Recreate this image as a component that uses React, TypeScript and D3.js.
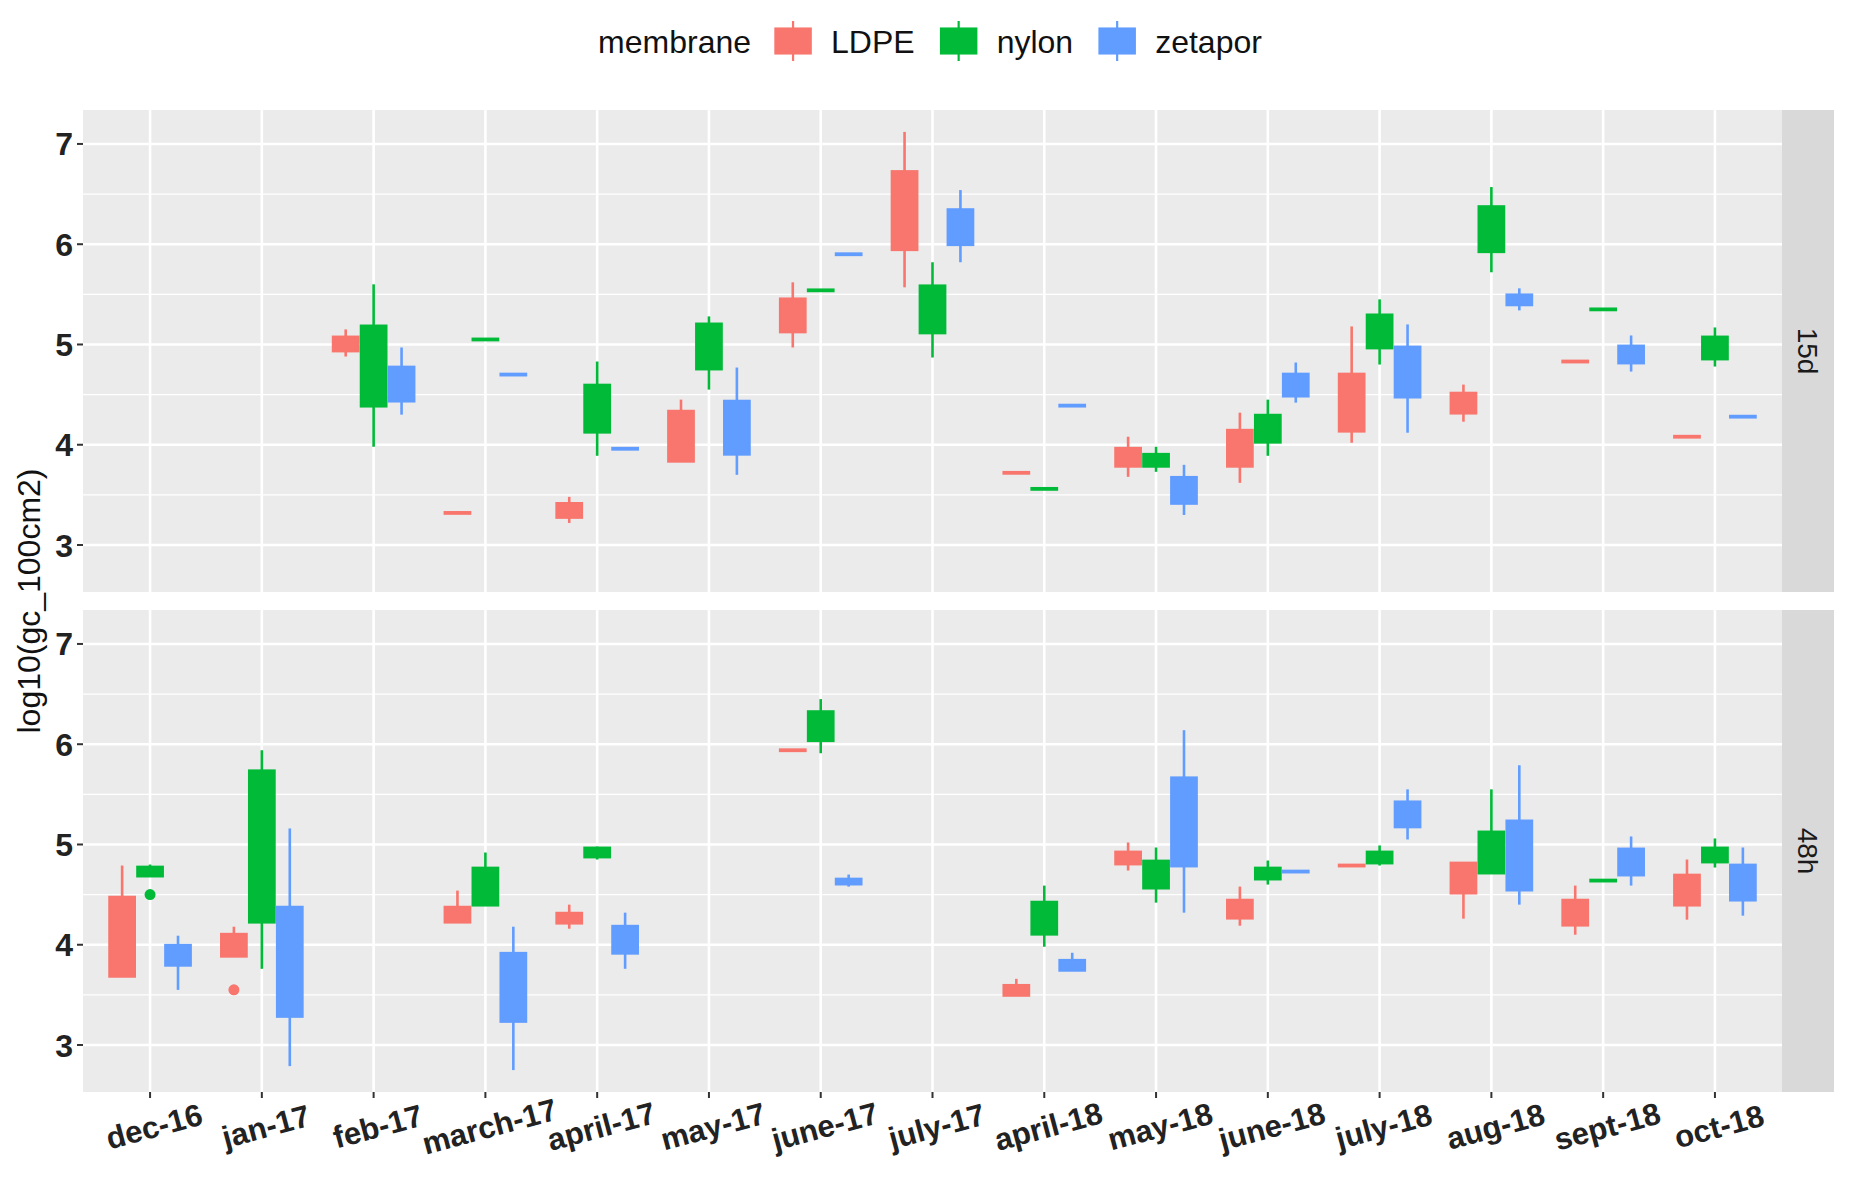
import * as d3 from "d3";
import { useEffect, useRef } from "react";

// boxplot stats per category: [lower whisker, q1, q3, upper whisker], null = no samples
type Stat = [number, number, number, number] | null;

const categories = [
  "dec-16", "jan-17", "feb-17", "march-17", "april-17", "may-17", "june-17", "july-17",
  "april-18", "may-18", "june-18", "july-18", "aug-18", "sept-18", "oct-18",
];
const membranes = ["LDPE", "nylon", "zetapor"];
const membraneColors = ["#F8766D", "#00BA38", "#619CFF"];
const facets = ["15d", "48h"];
const yTicks = [3, 4, 5, 6, 7];
const yMinor = [3.5, 4.5, 5.5, 6.5];

// 15d panel
const ldpe15d: Stat[] = [
  null, null,
  [4.88, 4.93, 5.08, 5.15],
  [3.31, 3.31, 3.33, 3.33],
  [3.22, 3.27, 3.42, 3.48],
  [3.83, 3.83, 4.34, 4.45],
  [4.97, 5.12, 5.46, 5.62],
  [5.57, 5.94, 6.73, 7.12],
  [3.71, 3.71, 3.73, 3.73],
  [3.68, 3.78, 3.97, 4.08],
  [3.62, 3.78, 4.15, 4.32],
  [4.02, 4.13, 4.71, 5.18],
  [4.23, 4.31, 4.52, 4.6],
  [4.82, 4.82, 4.84, 4.84],
  [4.07, 4.07, 4.09, 4.09],
];
const nylon15d: Stat[] = [
  null, null,
  [3.98, 4.38, 5.19, 5.6],
  [5.04, 5.04, 5.06, 5.06],
  [3.89, 4.12, 4.6, 4.83],
  [4.55, 4.75, 5.21, 5.28],
  [5.53, 5.53, 5.55, 5.55],
  [4.87, 5.11, 5.59, 5.82],
  [3.55, 3.55, 3.57, 3.57],
  [3.73, 3.78, 3.91, 3.98],
  [3.89, 4.02, 4.3, 4.45],
  [4.8, 4.96, 5.3, 5.45],
  [5.72, 5.92, 6.38, 6.57],
  [5.34, 5.34, 5.36, 5.36],
  [4.78, 4.85, 5.08, 5.17],
];
const zetapor15d: Stat[] = [
  null, null,
  [4.3, 4.43, 4.78, 4.97],
  [4.69, 4.69, 4.71, 4.71],
  [3.95, 3.95, 3.97, 3.97],
  [3.7, 3.9, 4.44, 4.77],
  [5.89, 5.89, 5.91, 5.91],
  [5.82, 5.99, 6.35, 6.54],
  [4.38, 4.38, 4.4, 4.4],
  [3.3, 3.41, 3.68, 3.8],
  [4.42, 4.48, 4.71, 4.82],
  [4.12, 4.47, 4.98, 5.2],
  [5.34, 5.39, 5.5, 5.56],
  [4.73, 4.81, 4.99, 5.09],
  [4.27, 4.27, 4.29, 4.29],
];

// 48h panel
const ldpe48h: Stat[] = [
  [3.68, 3.68, 4.48, 4.79],
  [3.88, 3.88, 4.11, 4.18],
  null,
  [4.22, 4.22, 4.38, 4.54],
  [4.16, 4.21, 4.32, 4.4],
  null,
  [5.93, 5.93, 5.95, 5.95],
  null,
  [3.49, 3.49, 3.6, 3.66],
  [4.74, 4.8, 4.93, 5.02],
  [4.19, 4.26, 4.45, 4.58],
  [4.78, 4.78, 4.8, 4.8],
  [4.26, 4.51, 4.82, 4.82],
  [4.1, 4.19, 4.45, 4.59],
  [4.25, 4.39, 4.7, 4.85],
];
const nylon48h: Stat[] = [
  [4.68, 4.68, 4.78, 4.8],
  [3.76, 4.22, 5.74, 5.94],
  null,
  [4.39, 4.39, 4.77, 4.92],
  [4.85, 4.87, 4.97, 4.98],
  null,
  [5.91, 6.03, 6.33, 6.45],
  null,
  [3.98, 4.1, 4.43, 4.59],
  [4.42, 4.56, 4.84, 4.97],
  [4.6, 4.65, 4.77, 4.84],
  [4.79, 4.81, 4.93, 4.99],
  [4.71, 4.71, 5.13, 5.55],
  [4.63, 4.63, 4.65, 4.65],
  [4.77, 4.82, 4.97, 5.06],
];
const zetapor48h: Stat[] = [
  [3.55, 3.79, 4.0, 4.09],
  [2.79, 3.28, 4.38, 5.16],
  null,
  [2.75, 3.23, 3.92, 4.18],
  [3.76, 3.91, 4.19, 4.32],
  null,
  [4.58, 4.6, 4.66, 4.7],
  null,
  [3.74, 3.74, 3.85, 3.92],
  [4.32, 4.78, 5.67, 6.14],
  [4.72, 4.72, 4.74, 4.74],
  [5.05, 5.17, 5.43, 5.55],
  [4.4, 4.54, 5.24, 5.79],
  [4.59, 4.69, 4.96, 5.08],
  [4.29, 4.44, 4.8, 4.97],
];

const outlierFacet = ["48h", "48h"];
const outlierCategory = ["dec-16", "jan-17"];
const outlierMembrane = ["nylon", "LDPE"];
const outlierValue = [4.5, 3.55];

const panelStats: Stat[][][] = [
  [ldpe15d, nylon15d, zetapor15d],
  [ldpe48h, nylon48h, zetapor48h],
];

const FONT = "'Liberation Sans', Arial, sans-serif";

const App = () => {
  const ref = useRef<SVGSVGElement>(null);

  const width = 1850;
  const height = 1183;
  const left = 83;
  const right = 1782;
  const stripW = 52;
  const panelTops = [110, 610];
  const panelH = 482;

  useEffect(() => {
    if (!ref.current) return;
    const svg = d3.select(ref.current);
    svg.selectAll("*").remove();

    svg.append("rect").attr("width", width).attr("height", height).attr("fill", "white");

    // shared y domain with ggplot-like 5% expansion
    const allVals: number[] = [];
    panelStats.forEach((p) => p.forEach((s) => s.forEach((v) => v && allVals.push(...v))));
    allVals.push(...outlierValue);
    const [lo, hi] = d3.extent(allVals) as [number, number];
    const pad = (hi - lo) * 0.05;

    const x = d3.scalePoint<string>().domain(categories).range([left, right]).padding(0.6);
    const step = x.step();
    const dodge = d3
      .scaleBand<string>()
      .domain(membranes)
      .range([-0.375 * step, 0.375 * step]);
    const bw = dodge.bandwidth();
    const cx = (cat: string, m: string) => (x(cat) as number) + (dodge(m) as number) + bw / 2;

    facets.forEach((facet, fi) => {
      const top = panelTops[fi];
      const y = d3.scaleLinear().domain([lo - pad, hi + pad]).range([top + panelH, top]);
      const g = svg.append("g");

      // panel background
      g.append("rect")
        .attr("x", left).attr("y", top)
        .attr("width", right - left).attr("height", panelH)
        .attr("fill", "#EBEBEB");

      // grid
      g.selectAll(".minor").data(yMinor).enter().append("line")
        .attr("x1", left).attr("x2", right)
        .attr("y1", (d) => y(d)).attr("y2", (d) => y(d))
        .attr("stroke", "white").attr("stroke-width", 1.3);
      g.selectAll(".major").data(yTicks).enter().append("line")
        .attr("x1", left).attr("x2", right)
        .attr("y1", (d) => y(d)).attr("y2", (d) => y(d))
        .attr("stroke", "white").attr("stroke-width", 2.6);
      g.selectAll(".vgrid").data(categories).enter().append("line")
        .attr("x1", (d) => x(d) as number).attr("x2", (d) => x(d) as number)
        .attr("y1", top).attr("y2", top + panelH)
        .attr("stroke", "white").attr("stroke-width", 2.6);

      // y axis ticks + labels
      g.selectAll(".ytick").data(yTicks).enter().append("line")
        .attr("x1", left - 6).attr("x2", left)
        .attr("y1", (d) => y(d)).attr("y2", (d) => y(d))
        .attr("stroke", "#333").attr("stroke-width", 2);
      g.selectAll(".ylab").data(yTicks).enter().append("text")
        .attr("x", left - 10).attr("y", (d) => y(d))
        .attr("dy", "0.36em")
        .attr("text-anchor", "end")
        .style("font-family", FONT).style("font-size", "32px").style("font-weight", "bold")
        .attr("fill", "#222")
        .text((d) => d);

      // strip
      g.append("rect")
        .attr("x", right).attr("y", top)
        .attr("width", stripW).attr("height", panelH)
        .attr("fill", "#D9D9D9");
      g.append("text")
        .attr("transform", `translate(${right + stripW / 2}, ${top + panelH / 2}) rotate(90)`)
        .attr("text-anchor", "middle").attr("dy", "0.36em")
        .style("font-family", FONT).style("font-size", "28px")
        .attr("fill", "#1A1A1A")
        .text(facet);

      // boxes
      membranes.forEach((m, mi) => {
        const color = membraneColors[mi];
        const stats = panelStats[fi][mi];
        const rows = categories
          .map((c, i) => ({ c, s: stats[i] }))
          .filter((d) => d.s !== null) as { c: string; s: [number, number, number, number] }[];
        const bg = g.append("g");
        bg.selectAll("line.w").data(rows).enter().append("line")
          .attr("x1", (d) => cx(d.c, m)).attr("x2", (d) => cx(d.c, m))
          .attr("y1", (d) => y(d.s[0])).attr("y2", (d) => y(d.s[3]))
          .attr("stroke", color).attr("stroke-width", 2.6);
        bg.selectAll("rect.b").data(rows).enter().append("rect")
          .attr("x", (d) => cx(d.c, m) - bw / 2 + 1)
          .attr("width", bw - 2)
          .attr("y", (d) => y(d.s[2]))
          .attr("height", (d) => Math.max(1, y(d.s[1]) - y(d.s[2])))
          .attr("fill", color).attr("stroke", color).attr("stroke-width", 1.8);
      });

      // outliers
      const outs = outlierValue
        .map((v, i) => ({ v, f: outlierFacet[i], c: outlierCategory[i], m: outlierMembrane[i] }))
        .filter((o) => o.f === facet);
      g.selectAll("circle.o").data(outs).enter().append("circle")
        .attr("cx", (d) => cx(d.c, d.m)).attr("cy", (d) => y(d.v))
        .attr("r", 5.5)
        .attr("fill", (d) => membraneColors[membranes.indexOf(d.m)]);
    });

    // x axis (bottom panel only)
    const axisY = panelTops[1] + panelH;
    svg.selectAll(".xtick").data(categories).enter().append("line")
      .attr("x1", (d) => x(d) as number).attr("x2", (d) => x(d) as number)
      .attr("y1", axisY).attr("y2", axisY + 6)
      .attr("stroke", "#333").attr("stroke-width", 2);
    svg.selectAll(".xlab").data(categories).enter().append("text")
      .attr("transform", (d) => `translate(${(x(d) as number) + 4}, ${axisY + 34}) rotate(-15)`)
      .attr("text-anchor", "middle").attr("dy", "0.36em")
      .style("font-family", FONT).style("font-size", "31px").style("font-weight", "bold")
      .attr("fill", "#222")
      .text((d) => d);

    // y title
    svg.append("text")
      .attr("transform", `translate(28, ${(panelTops[0] + panelTops[1] + panelH) / 2}) rotate(-90)`)
      .attr("text-anchor", "middle").attr("dy", "0.36em")
      .style("font-family", FONT).style("font-size", "32px")
      .attr("fill", "#111")
      .text("log10(gc_100cm2)");

    // legend (top, centred)
    const lg = svg.append("g");
    const legendY = 41;
    const keyW = 40;
    const keyH = 40;
    let cursor = 0;
    const title = lg.append("text")
      .attr("x", cursor).attr("y", legendY).attr("dy", "0.36em")
      .style("font-family", FONT).style("font-size", "32px")
      .attr("fill", "#111")
      .text("membrane");
    cursor += (title.node() as SVGTextElement).getComputedTextLength() + 22;
    membranes.forEach((m, mi) => {
      const color = membraneColors[mi];
      const kx = cursor;
      lg.append("line")
        .attr("x1", kx + keyW / 2).attr("x2", kx + keyW / 2)
        .attr("y1", legendY - keyH / 2).attr("y2", legendY + keyH / 2)
        .attr("stroke", color).attr("stroke-width", 2.2);
      lg.append("rect")
        .attr("x", kx + 2).attr("y", legendY - keyH * 0.32)
        .attr("width", keyW - 4).attr("height", keyH * 0.64)
        .attr("fill", color).attr("stroke", color).attr("stroke-width", 1.5);
      cursor += keyW + 18;
      const t = lg.append("text")
        .attr("x", cursor).attr("y", legendY).attr("dy", "0.36em")
        .style("font-family", FONT).style("font-size", "32px")
        .attr("fill", "#111")
        .text(m);
      cursor += (t.node() as SVGTextElement).getComputedTextLength() + 24;
    });
    const legendW = cursor - 24;
    lg.attr("transform", `translate(${930 - legendW / 2}, 0)`);
  }, []);

  return (
    <svg
      ref={ref}
      width={width}
      height={height}
      style={{ position: "absolute", left: 0, top: 0, display: "block" }}
    ></svg>
  );
};

export default App;
